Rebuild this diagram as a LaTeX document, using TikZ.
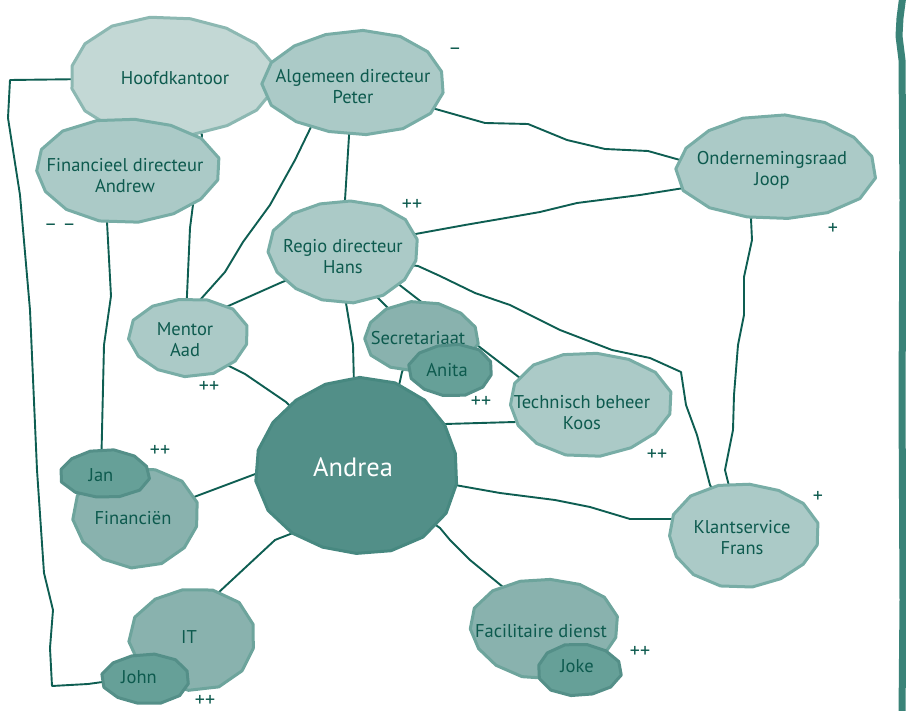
\documentclass[tikz,border=0pt]{standalone}
\usepackage{fontspec}
\setmainfont{PT Sans}
\usetikzlibrary{shapes.geometric}
\definecolor{textc}{HTML}{0D5A4E}
\definecolor{edgec}{HTML}{0E5E52}
\definecolor{barc}{HTML}{3A8378}
\definecolor{lightf}{HTML}{C3D8D5}
\definecolor{lightd}{HTML}{8CB8B2}
\definecolor{midf}{HTML}{ABCAC7}
\definecolor{midd}{HTML}{78ADA6}
\definecolor{deptf}{HTML}{89B2AE}
\definecolor{deptd}{HTML}{6DA49C}
\definecolor{persf}{HTML}{66A098}
\definecolor{persd}{HTML}{548F88}
\definecolor{andf}{HTML}{528F88}
\definecolor{andd}{HTML}{478880}
\pgfdeclarelayer{edges}
\pgfsetlayers{edges,main}
\newcommand\drawblob[6]{% style, x, y, rx, ry, samples
  \path[#1] plot[samples=#6,domain=0:360,variable=\t]
    ({#2+#4*cos(\t+11)*(1+0.025*sin(3*\t+7*#2))},{#3+#5*sin(\t+11)*(1+0.025*sin(3*\t+7*#2))}) -- cycle;}
\begin{document}
\begin{tikzpicture}[x=1pt,y=-1pt,
  light/.style={fill=lightf,draw=lightd,line width=3pt,line join=round},
  mid/.style={fill=midf,draw=midd,line width=3pt,line join=round},
  dept/.style={fill=deptf,draw=deptd,line width=3pt,line join=round},
  pers/.style={fill=persf,draw=persd,line width=3pt,line join=round},
  andr/.style={fill=andf,draw=andd,line width=3pt,line join=round},
  txt/.style={text=textc,align=center,inner sep=1pt,font=\fontsize{18.5}{21}\selectfont},
  big/.style={text=white,align=center,inner sep=1pt,font=\fontsize{26.5}{29}\selectfont},
  signlbl/.style={text=textc,inner sep=0pt,font=\fontsize{20}{22}\selectfont},
  conn/.style={draw=edgec,line width=1.9pt,line join=round}]
\path[use as bounding box] (0,0) rectangle (906,711);

% right bar
\draw[barc,line width=7pt,line join=round] (903,-5) -- (900,18) -- (899,36) -- (902,60) -- (903,200) -- (902,400) -- (903,600) -- (902,716);

% shapes and texts
\drawblob{light}{171}{77}{103}{60}{17}
\node[txt] (hk) at (175,78) {Hoofdkantoor};
\drawblob{mid}{355}{83}{91}{52}{16}
\node[txt] (alg) at (353,87) {Algemeen directeur\\Peter};
\drawblob{mid}{127}{170}{92}{52}{16}
\node[txt] (fin) at (125,176) {Financieel directeur\\Andrew};
\drawblob{mid}{776}{168}{100}{52}{16}
\node[txt] (or) at (772,170) {Ondernemingsraad\\Joop};
\drawblob{mid}{344}{251}{75}{51}{16}
\node[txt] (regio) at (343,257) {Regio directeur\\Hans};
\drawblob{mid}{189}{337}{60}{39}{14}
\node[txt] (mentor) at (185,340) {Mentor\\Aad};
\drawblob{dept}{421}{337}{57}{35}{14}
\node[txt] (secr) at (418,338) {Secretariaat};
\drawblob{pers}{451}{370}{42}{26}{13}
\node[txt] (anita) at (447,370) {Anita};
\drawblob{mid}{590}{404}{81}{52}{16}
\node[txt] (techn) at (582,413) {Technisch beheer\\Koos};
\drawblob{andr}{358}{467}{101}{88}{19}
\node[big] (andrea) at (353,467) {Andrea};
\drawblob{dept}{136}{517}{63}{50}{14}
\node[txt] (finz) at (133,518) {Financiën};
\drawblob{pers}{105}{474}{45}{24}{13}
\node[txt] (jan) at (101,475) {Jan};
\drawblob{dept}{193}{639}{63}{51}{14}
\node[txt] (it) at (189,637) {IT};
\drawblob{pers}{146}{679}{44}{25}{13}
\node[txt] (john) at (139,677) {John};
\drawblob{dept}{544}{628}{74}{50}{16}
\node[txt] (facil) at (541,631) {Facilitaire dienst};
\drawblob{pers}{579}{670}{42}{26}{13}
\node[txt] (joke) at (577,666) {Joke};
\drawblob{mid}{743}{535}{75}{52}{16}
\node[txt] (klant) at (742,538) {Klantservice\\Frans};

% sign labels
\node[signlbl] (m1) at (455,51) {–};
\node[signlbl] (m2) at (412,205) {++};
\node[signlbl] (m3) at (60,227) {– –};
\node[signlbl] (m4) at (833,229) {+};
\node[signlbl] (m5) at (209,387) {++};
\node[signlbl] (m6) at (160,451) {++};
\node[signlbl] (m7) at (481,402) {++};
\node[signlbl] (m8) at (657,455) {++};
\node[signlbl] (m9) at (818,497) {+};
\node[signlbl] (m10) at (205,701) {++};
\node[signlbl] (m11) at (640,652) {++};

% connectors
\begin{pgfonlayer}{edges}
\draw[conn] (hk) -- (10,80) -- (8,118) -- (20,195) -- (30,310) -- (37,470) -- (44,573) -- (53,610) -- (50,648) -- (52,686) -- (88,684) -- (john);
\draw[conn] (fin) -- (107,222) -- (111,296) -- (104,345) -- (jan);
\draw[conn] (hk) -- (202,135) -- (190,228) -- (mentor);
\draw[conn] (alg) -- (311,127) -- (295,160) -- (270,205) -- (243,242) -- (225,272) -- (200,300) -- (mentor);
\draw[conn] (alg) -- (349,136) -- (345,200) -- (regio);
\draw[conn] (alg) -- (432,108) -- (485,123) -- (528,124) -- (567,140) -- (605,149) -- (648,151) -- (680,160) -- (or);
\draw[conn] (regio) -- (410,235) -- (465,225) -- (500,219) -- (540,212) -- (577,203) -- (640,195) -- (684,188) -- (or);
\draw[conn] (regio) -- (280,283) -- (226,307) -- (mentor);
\draw[conn] (regio) -- (346,303) -- (353,345) -- (354,385) -- (andrea);
\draw[conn] (regio) -- (377,297) -- (secr);
\draw[conn] (regio) -- (397,283) -- (477,345) -- (520,378) -- (techn);
\draw[conn] (regio) -- (418,266) -- (440,276) -- (475,293) -- (510,305) -- (560,330) -- (612,350) -- (650,358) -- (681,372) -- (686,405) -- (697,435) -- (710,485) -- (klant);
\draw[conn] (or) -- (751,219) -- (752,240) -- (744,277) -- (744,315) -- (738,345) -- (734,395) -- (733,430) -- (725,470) -- (klant);
\draw[conn] (secr) -- (402,372) -- (398,390) -- (andrea);
\draw[conn] (andrea) -- (445,424) -- (480,423) -- (515,422) -- (techn);
\draw[conn] (andrea) -- (455,485) -- (500,493) -- (555,500) -- (590,507) -- (630,519) -- (672,519) -- (klant);
\draw[conn] (mentor) -- (227,365) -- (245,374) -- (286,402) -- (andrea);
\draw[conn] (finz) -- (194,497) -- (258,473) -- (andrea);
\draw[conn] (it) -- (218,593) -- (275,540) -- (280,538) -- (293,533) -- (andrea);
\draw[conn] (andrea) -- (440,528) -- (450,540) -- (470,560) -- (503,587) -- (facil);
\end{pgfonlayer}
\end{tikzpicture}
\end{document}
